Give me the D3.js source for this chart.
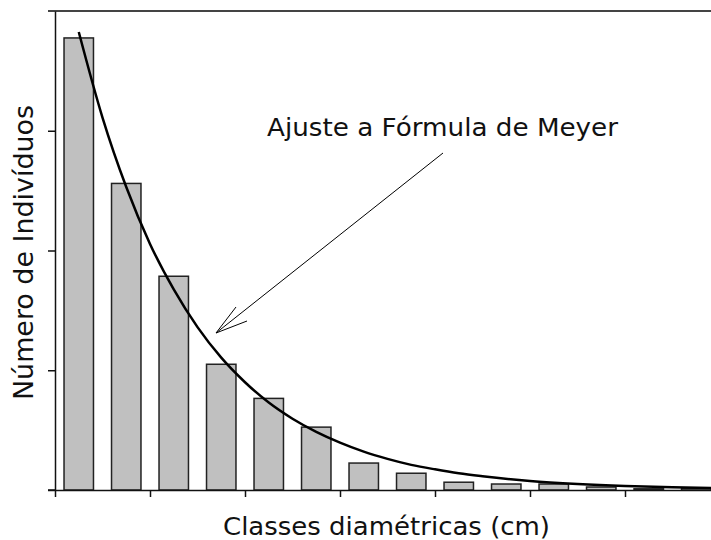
<!DOCTYPE html>
<html>
<head>
<meta charset="utf-8">
<script src="https://cdn.jsdelivr.net/npm/d3@7"></script>
<style>
  html, body { margin: 0; padding: 0; background: #fff; }
  svg { display: block; }
  text { font-family: "DejaVu Sans", Verdana, sans-serif; fill: #111; }
</style>
</head>
<body>
<svg id="chart" width="711" height="540"></svg>
<script>
// Diameter classes (unlabelled on the axis)
const classes = ["1","2","3","4","5","6","7","8","9","10","11","12","13","14"];
// Number of individuals per class
const counts = [75.5, 51.2, 35.7, 21.0, 15.3, 10.5, 4.5, 2.8, 1.3, 1.0, 1.0, 0.5, 0.2, 0.3];
// Meyer fitted curve, sampled along the class axis
const fitX = [0.5, 1.0, 1.5, 2.0, 2.5, 3.0, 3.5, 4.0, 4.5, 5.0, 5.5, 6.0, 6.5, 7.0, 7.5, 8.0, 8.5, 9.0, 10.0, 11.0, 12.0, 13.0, 14.0];
const fitY = [76.5, 62.2, 50.6, 41.1, 33.5, 27.2, 22.1, 18.0, 14.6, 11.9, 9.7, 7.9, 6.4, 5.2, 4.2, 3.45, 2.8, 2.3, 1.5, 1.0, 0.66, 0.44, 0.29];
const yTicks = [0, 20, 40, 60];
const xTicks = [0, 2, 4, 6, 8, 10, 12];

const svg = d3.select("#chart");
const plotLeft = 55, plotRight = 720, plotTop = 11, plotBottom = 490;

const xBand = d3.scaleBand().domain(classes).range([plotLeft, plotRight])
  .paddingInner(0.38).paddingOuter(0.19);
const x = d3.scaleLinear().domain([0, classes.length]).range([plotLeft, plotRight]);
const y = d3.scaleLinear().domain([0, 80]).range([plotBottom, plotTop]);

// frame line across the top of the plot
svg.append("line")
  .attr("x1", plotLeft - 7).attr("x2", 711)
  .attr("y1", y(80)).attr("y2", y(80))
  .attr("stroke", "#444").attr("stroke-width", 2);

// bars
svg.append("g").selectAll("rect").data(counts).join("rect")
  .attr("x", (d, i) => xBand(classes[i]))
  .attr("y", d => y(d))
  .attr("width", xBand.bandwidth())
  .attr("height", d => y(0) - y(d))
  .attr("fill", "#c0c0c0")
  .attr("stroke", "#222")
  .attr("stroke-width", 1.5);

// y axis
const yAxis = svg.append("g").attr("transform", `translate(${plotLeft},0)`)
  .call(d3.axisLeft(y).tickValues(yTicks).tickSize(7).tickFormat("").tickSizeOuter(0));
yAxis.select(".domain").attr("stroke", "#111").attr("stroke-width", 1.5);
yAxis.selectAll(".tick line").attr("stroke", "#111").attr("stroke-width", 1.5);

// x axis
const xAxis = svg.append("g").attr("transform", `translate(0,${plotBottom})`)
  .call(d3.axisBottom(x).tickValues(xTicks).tickSize(7).tickFormat("").tickSizeOuter(0));
xAxis.select(".domain").attr("stroke", "#111").attr("stroke-width", 1.5);
xAxis.selectAll(".tick line").attr("stroke", "#111").attr("stroke-width", 1.5);
// axis line also runs left past the y axis
svg.append("line")
  .attr("x1", plotLeft - 7).attr("x2", plotLeft)
  .attr("y1", plotBottom).attr("y2", plotBottom)
  .attr("stroke", "#111").attr("stroke-width", 1.5);

// fitted curve
const line = d3.line().x(d => x(d[0])).y(d => y(d[1])).curve(d3.curveMonotoneX);
svg.append("path")
  .datum(fitX.map((v, i) => [v, fitY[i]]))
  .attr("d", line)
  .attr("fill", "none")
  .attr("stroke", "#000")
  .attr("stroke-width", 2.5);

// annotation
svg.append("text")
  .attr("x", 267).attr("y", 136)
  .attr("font-size", 24.5)
  .attr("textLength", 351).attr("lengthAdjust", "spacingAndGlyphs")
  .text("Ajuste a Fórmula de Meyer");

const tip = [216, 333], tail = [443, 153];
svg.append("line")
  .attr("x1", tail[0]).attr("y1", tail[1]).attr("x2", tip[0]).attr("y2", tip[1])
  .attr("stroke", "#000").attr("stroke-width", 1);
svg.append("path")
  .attr("d", `M236,307 L${tip[0]},${tip[1]} L247,321`)
  .attr("fill", "none").attr("stroke", "#000").attr("stroke-width", 1);

// axis titles
svg.append("text")
  .attr("x", 223).attr("y", 535)
  .attr("font-size", 25)
  .attr("textLength", 327).attr("lengthAdjust", "spacingAndGlyphs")
  .text("Classes diamétricas (cm)");

svg.append("text")
  .attr("transform", `translate(33,400) rotate(-90)`)
  .attr("font-size", 26.5)
  .attr("textLength", 295).attr("lengthAdjust", "spacingAndGlyphs")
  .text("Número de Indivíduos");
</script>
</body>
</html>
